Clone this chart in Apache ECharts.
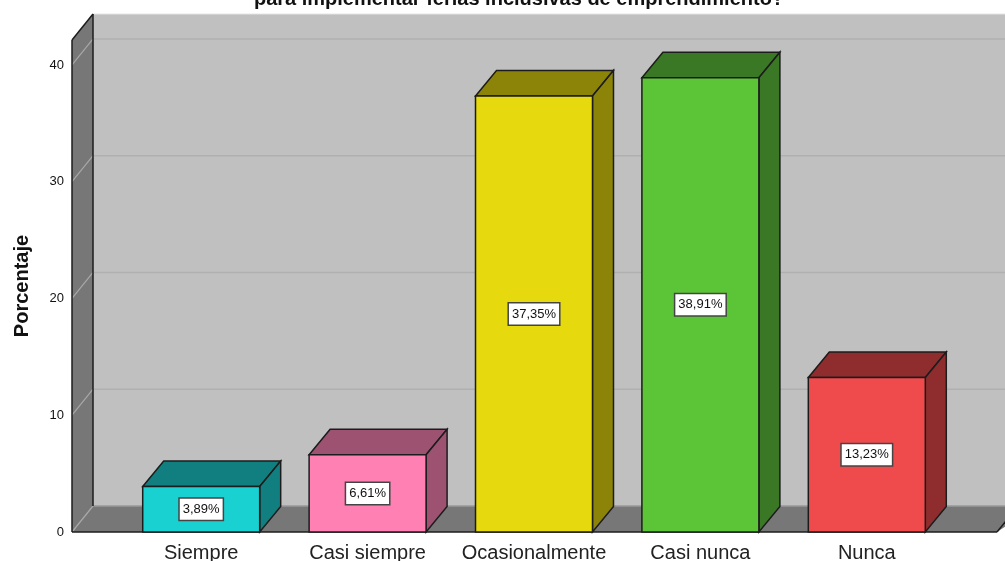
<!DOCTYPE html>
<html><head><meta charset="utf-8">
<style>html,body{margin:0;padding:0;background:#fff}#c{width:1005px;height:561px}</style>
<script src="https://cdn.jsdelivr.net/npm/echarts@6/dist/echarts.min.js"></script>
</head><body><div id="c"></div>
<script>
const categories = ['Siempre', 'Casi siempre', 'Ocasionalmente', 'Casi nunca', 'Nunca'];
const percentages = [3.89, 6.61, 37.35, 38.91, 13.23];
const frontColors = ['#1AD1D1', '#FF80B3', '#E6D90E', '#5CC437', '#EF4B4C'];
const shadeColors = ['#117F7F', '#9C5270', '#8C8408', '#3A7825', '#8F2D2E'];
const gridTicks = [0, 10, 20, 30, 40];
const titleText = 'para implementar ferias inclusivas de emprendimiento?';
const axisName = 'Porcentaje';

const DX = 21, DY = -25.5, WDY = -26;
const EDGE = '#1c1c1c';
const FONT = '"Liberation Sans", Arial, sans-serif';

function poly(points, fill, stroke, lw) {
  return { type: 'polygon', shape: { points }, style: { fill, stroke: stroke || 'none', lineWidth: lw || 0 } };
}
function seg(x1, y1, x2, y2, stroke, lw) {
  return { type: 'line', shape: { x1, y1, x2, y2 }, style: { stroke, lineWidth: lw } };
}

function renderWalls(params, api) {
  const cs = params.coordSys;
  const left = cs.x - 46, right = cs.x + cs.width + 47, far = right + 40;
  const bottom = api.coord([0, 0])[1], top = cs.y;
  const kids = [
    poly([[left + DX, top + WDY], [far, top + WDY], [far, bottom + WDY], [left + DX, bottom + WDY]], '#C0C0C0'),
    poly([[left, top], [left + DX, top + WDY], [left + DX, bottom + WDY], [left, bottom]], '#777777'),
    poly([[left, bottom], [left + DX, bottom + WDY], [far, bottom + WDY], [right, bottom]], '#777777')
  ];
  gridTicks.forEach(t => {
    const y = api.coord([0, t])[1];
    if (t > 0) kids.push(seg(left + DX, y + WDY, far, y + WDY, '#B0B0B0', 1.5));
    kids.push(seg(left, y, left + DX, y + WDY, '#A8A8A8', 1.2));
  });
  kids.push(seg(left + DX, bottom + WDY, far, bottom + WDY, '#989898', 1.5));
  kids.push(seg(left + DX, top + WDY, far, top + WDY, '#E4E4E4', 1));
  kids.push(seg(left, top, left + DX, top + WDY, EDGE, 1.5));
  kids.push(seg(left, top, left, bottom, EDGE, 1.5));
  kids.push(seg(left + DX, top + WDY, left + DX, bottom + WDY, EDGE, 1.5));
  kids.push(seg(left, bottom, right, bottom, EDGE, 1.5));
  kids.push(seg(right, bottom, right + DX, bottom + WDY, EDGE, 1.5));
  return { type: 'group', children: kids };
}

function renderBar(params, api) {
  const i = api.value(0), v = api.value(1);
  const [cx, yTop] = api.coord([i, v]);
  const yBase = api.coord([i, 0])[1];
  const w = api.size([1, 0])[0] * 0.703;
  const l = cx - w / 2, r = cx + w / 2;
  const label = v.toFixed(2).replace('.', ',') + '%';
  return { type: 'group', children: [
    poly([[l, yTop], [l + DX, yTop + DY], [r + DX, yTop + DY], [r, yTop]], shadeColors[i], EDGE, 1.5),
    poly([[r, yTop], [r + DX, yTop + DY], [r + DX, yBase + DY], [r, yBase]], shadeColors[i], EDGE, 1.5),
    poly([[l, yTop], [r, yTop], [r, yBase], [l, yBase]], frontColors[i], EDGE, 1.5),
    { type: 'text', x: cx, y: (yTop + yBase) / 2, style: {
      text: label, fill: '#111', font: '13px ' + FONT, align: 'center', verticalAlign: 'middle',
      backgroundColor: '#fff', borderColor: '#444', borderWidth: 1.5, padding: [4, 3, 4, 3]
    } }
  ] };
}

const chart = echarts.init(document.getElementById('c'), null, { renderer: 'canvas' });
chart.setOption({
  animation: false,
  backgroundColor: '#fff',
  title: { text: titleText, left: 514, top: -16, textAlign: 'center',
    textStyle: { fontFamily: FONT, fontSize: 20, fontWeight: 'bold', color: '#111' } },
  grid: { left: 118, width: 832, top: 40, bottom: 29, outerBoundsMode: 'none' },
  xAxis: { type: 'category', data: categories,
    axisLine: { show: false }, axisTick: { show: false }, splitLine: { show: false },
    axisLabel: { margin: 11, fontFamily: FONT, fontSize: 20, color: '#222', interval: 0 } },
  yAxis: { type: 'value', min: 0, max: 42.14, interval: 10,
    name: axisName, nameLocation: 'middle', nameGap: 86, nameRotate: 90,
    nameTextStyle: { fontFamily: FONT, fontSize: 20, fontWeight: 'bold', color: '#111' },
    axisLine: { show: false }, axisTick: { show: false }, splitLine: { show: false },
    axisLabel: { margin: 54, fontFamily: FONT, fontSize: 13, color: '#111', showMaxLabel: false } },
  series: [
    { type: 'custom', z: 1, silent: true, renderItem: renderWalls, data: [[0, 0]] },
    { type: 'custom', z: 3, silent: true, renderItem: renderBar,
      encode: { x: 0, y: 1 },
      data: percentages.map((v, i) => [i, v]) }
  ]
});
</script></body></html>
